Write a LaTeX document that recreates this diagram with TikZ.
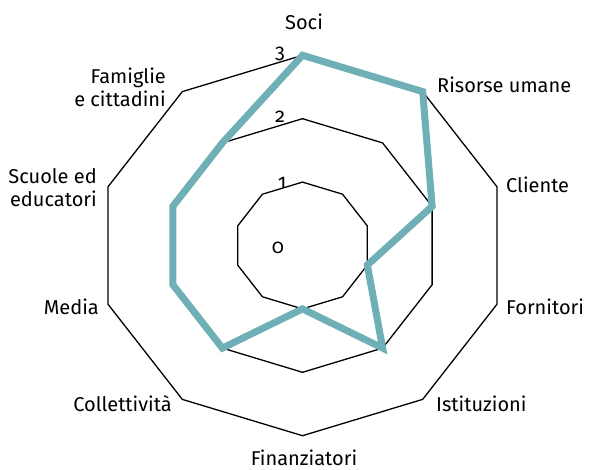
\documentclass[tikz,border=0pt]{standalone}
\usepackage{fontspec}
\setmainfont{Fira Sans}
\definecolor{profilo}{HTML}{6FAFB6}
\begin{document}
\begin{tikzpicture}[x=1pt, y=1pt,
    ring/.style={line width=1.3pt, line join=miter},
    profile/.style={line width=7pt, draw=profilo, line join=miter},
    axislabel/.style={inner sep=0pt, font=\fontsize{20}{23}\selectfont},
    levellabel/.style={inner sep=0pt, font=\fontsize{20}{23}\selectfont\addfontfeatures{Numbers=OldStyle}}]
  \useasboundingbox (-302.5, -224.5) rectangle (288.5, 245.5);
  \begin{scope}[xscale=1.075]
    \foreach \r in {63.4, 126.8, 190.2}
      \draw[ring] (90:\r) -- (54:\r) -- (18:\r) -- (-18:\r) -- (-54:\r) -- (-90:\r)
        -- (-126:\r) -- (-162:\r) -- (162:\r) -- (126:\r) -- cycle;
    \draw[profile] (90:190.2) -- (54:190.2) -- (18:126.8) -- (-18:63.4) -- (-54:126.8)
      -- (-90:63.4) -- (-126:126.8) -- (-162:126.8) -- (162:126.8) -- (126:126.8) -- cycle;
  \end{scope}
  \node [levellabel] (l3) at (-22.5, 192) {3};
  \node [levellabel] (l2) at (-22.5, 129) {2};
  \node [levellabel] (l1) at (-20.5, 62.5) {1};
  \node [levellabel] (l0) at (-24.5, -2.5) {0};
  \node [axislabel, anchor=base] (soci) at (1.5, 215.5) {Soci};
  \node [axislabel, anchor=base west] (risorse) at (134.5, 152.5) {Risorse umane};
  \node [axislabel, anchor=base west] (cliente) at (203.5, 52.5) {Cliente};
  \node [axislabel, anchor=base west] (fornitori) at (203.5, -69.5) {Fornitori};
  \node [axislabel, anchor=base west] (istituzioni) at (133.5, -166.5) {Istituzioni};
  \node [axislabel, anchor=base] (finanziatori) at (1.5, -219.5) {Finanziatori};
  \node [axislabel, anchor=base east] (collettivita) at (-130.5, -166.5) {Collettività};
  \node [axislabel, anchor=base east] (media) at (-203.5, -69.5) {Media};
  \node [axislabel, anchor=east, align=right] (scuole) at (-205.5, 57.5) {Scuole ed\\educatori};
  \node [axislabel, anchor=east, align=right] (famiglie) at (-136.5, 158) {Famiglie\\e cittadini};
\end{tikzpicture}
\end{document}
